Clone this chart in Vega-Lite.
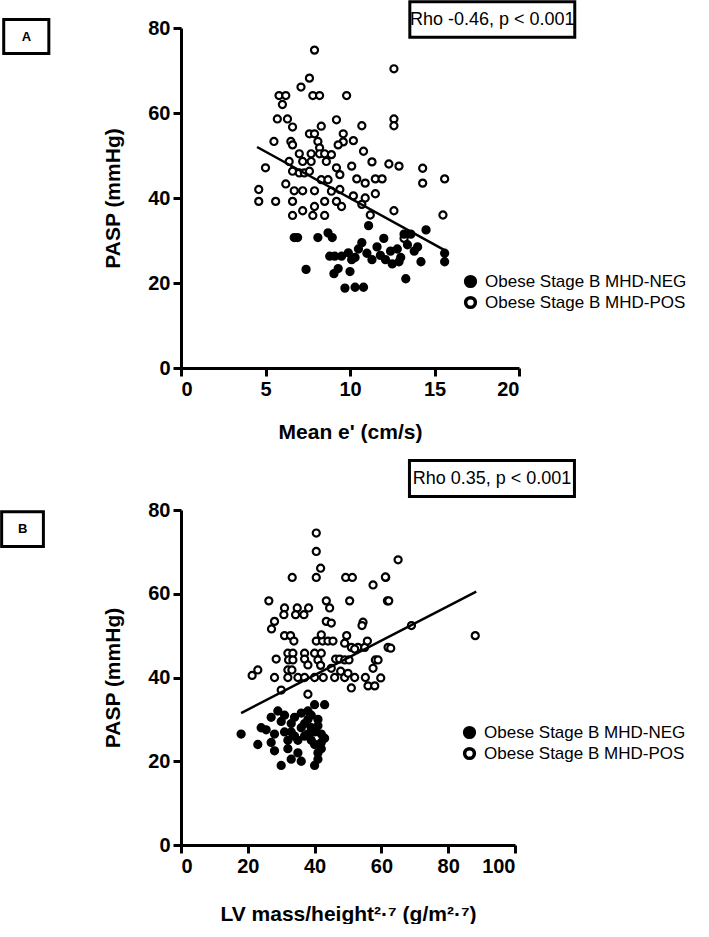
{
  "$schema": "https://vega.github.io/schema/vega-lite/v6.json",
  "background": "white",
  "padding": {"left": 0, "top": 0, "right": 0, "bottom": 0},
  "config": {
    "view": {"stroke": null},
    "font": "Liberation Sans",
    "axis": {"grid": false, "domainColor": "black", "domainWidth": 3, "tickColor": "black", "tickWidth": 3, "tickSize": 8, "labelFont": "Liberation Sans", "labelFontWeight": "bold", "labelFontSize": 20, "labelColor": "black", "labelPadding": 3, "titleFont": "Liberation Sans", "titleFontWeight": "bold", "titleFontSize": 21, "titleColor": "black"},
    "legend": {"labelLimit": 400}
  },
  "datasets": {
    "a": [
      {"e": 7.9, "pasp": 74.8, "group": "Obese Stage B MHD-POS"},
      {"e": 7.6, "pasp": 68.2, "group": "Obese Stage B MHD-POS"},
      {"e": 7.1, "pasp": 66.1, "group": "Obese Stage B MHD-POS"},
      {"e": 5.8, "pasp": 64.1, "group": "Obese Stage B MHD-POS"},
      {"e": 6.2, "pasp": 64.1, "group": "Obese Stage B MHD-POS"},
      {"e": 6.0, "pasp": 62.0, "group": "Obese Stage B MHD-POS"},
      {"e": 7.8, "pasp": 64.1, "group": "Obese Stage B MHD-POS"},
      {"e": 8.2, "pasp": 64.1, "group": "Obese Stage B MHD-POS"},
      {"e": 9.8, "pasp": 64.1, "group": "Obese Stage B MHD-POS"},
      {"e": 5.7, "pasp": 58.6, "group": "Obese Stage B MHD-POS"},
      {"e": 6.3, "pasp": 58.6, "group": "Obese Stage B MHD-POS"},
      {"e": 6.6, "pasp": 56.7, "group": "Obese Stage B MHD-POS"},
      {"e": 9.2, "pasp": 58.4, "group": "Obese Stage B MHD-POS"},
      {"e": 8.3, "pasp": 56.9, "group": "Obese Stage B MHD-POS"},
      {"e": 5.5, "pasp": 53.3, "group": "Obese Stage B MHD-POS"},
      {"e": 6.5, "pasp": 53.3, "group": "Obese Stage B MHD-POS"},
      {"e": 6.6, "pasp": 52.5, "group": "Obese Stage B MHD-POS"},
      {"e": 7.6, "pasp": 55.1, "group": "Obese Stage B MHD-POS"},
      {"e": 7.9, "pasp": 55.1, "group": "Obese Stage B MHD-POS"},
      {"e": 9.6, "pasp": 55.1, "group": "Obese Stage B MHD-POS"},
      {"e": 9.6, "pasp": 53.2, "group": "Obese Stage B MHD-POS"},
      {"e": 8.1, "pasp": 53.3, "group": "Obese Stage B MHD-POS"},
      {"e": 8.2, "pasp": 51.8, "group": "Obese Stage B MHD-POS"},
      {"e": 9.3, "pasp": 52.5, "group": "Obese Stage B MHD-POS"},
      {"e": 5.0, "pasp": 47.1, "group": "Obese Stage B MHD-POS"},
      {"e": 7.0, "pasp": 50.4, "group": "Obese Stage B MHD-POS"},
      {"e": 7.7, "pasp": 50.4, "group": "Obese Stage B MHD-POS"},
      {"e": 8.2, "pasp": 50.4, "group": "Obese Stage B MHD-POS"},
      {"e": 8.5, "pasp": 50.4, "group": "Obese Stage B MHD-POS"},
      {"e": 8.9, "pasp": 50.2, "group": "Obese Stage B MHD-POS"},
      {"e": 6.4, "pasp": 48.6, "group": "Obese Stage B MHD-POS"},
      {"e": 7.2, "pasp": 48.6, "group": "Obese Stage B MHD-POS"},
      {"e": 7.7, "pasp": 48.6, "group": "Obese Stage B MHD-POS"},
      {"e": 8.6, "pasp": 48.6, "group": "Obese Stage B MHD-POS"},
      {"e": 9.2, "pasp": 47.1, "group": "Obese Stage B MHD-POS"},
      {"e": 6.6, "pasp": 46.3, "group": "Obese Stage B MHD-POS"},
      {"e": 7.0, "pasp": 45.9, "group": "Obese Stage B MHD-POS"},
      {"e": 7.3, "pasp": 45.9, "group": "Obese Stage B MHD-POS"},
      {"e": 7.6, "pasp": 46.3, "group": "Obese Stage B MHD-POS"},
      {"e": 8.3, "pasp": 44.3, "group": "Obese Stage B MHD-POS"},
      {"e": 8.7, "pasp": 44.3, "group": "Obese Stage B MHD-POS"},
      {"e": 9.4, "pasp": 45.5, "group": "Obese Stage B MHD-POS"},
      {"e": 4.6, "pasp": 42.0, "group": "Obese Stage B MHD-POS"},
      {"e": 6.2, "pasp": 43.3, "group": "Obese Stage B MHD-POS"},
      {"e": 6.7, "pasp": 41.7, "group": "Obese Stage B MHD-POS"},
      {"e": 7.2, "pasp": 41.7, "group": "Obese Stage B MHD-POS"},
      {"e": 7.9, "pasp": 41.7, "group": "Obese Stage B MHD-POS"},
      {"e": 8.9, "pasp": 41.6, "group": "Obese Stage B MHD-POS"},
      {"e": 9.4, "pasp": 42.0, "group": "Obese Stage B MHD-POS"},
      {"e": 4.6, "pasp": 39.2, "group": "Obese Stage B MHD-POS"},
      {"e": 5.6, "pasp": 39.2, "group": "Obese Stage B MHD-POS"},
      {"e": 6.6, "pasp": 39.2, "group": "Obese Stage B MHD-POS"},
      {"e": 7.2, "pasp": 37.0, "group": "Obese Stage B MHD-POS"},
      {"e": 7.9, "pasp": 38.0, "group": "Obese Stage B MHD-POS"},
      {"e": 8.5, "pasp": 39.2, "group": "Obese Stage B MHD-POS"},
      {"e": 9.2, "pasp": 39.2, "group": "Obese Stage B MHD-POS"},
      {"e": 9.5, "pasp": 38.0, "group": "Obese Stage B MHD-POS"},
      {"e": 6.6, "pasp": 35.9, "group": "Obese Stage B MHD-POS"},
      {"e": 7.8, "pasp": 35.9, "group": "Obese Stage B MHD-POS"},
      {"e": 8.5, "pasp": 35.9, "group": "Obese Stage B MHD-POS"},
      {"e": 12.6, "pasp": 70.4, "group": "Obese Stage B MHD-POS"},
      {"e": 12.6, "pasp": 58.6, "group": "Obese Stage B MHD-POS"},
      {"e": 12.6, "pasp": 57.0, "group": "Obese Stage B MHD-POS"},
      {"e": 10.7, "pasp": 57.0, "group": "Obese Stage B MHD-POS"},
      {"e": 10.2, "pasp": 53.5, "group": "Obese Stage B MHD-POS"},
      {"e": 10.8, "pasp": 51.0, "group": "Obese Stage B MHD-POS"},
      {"e": 11.3, "pasp": 48.5, "group": "Obese Stage B MHD-POS"},
      {"e": 12.3, "pasp": 48.0, "group": "Obese Stage B MHD-POS"},
      {"e": 12.9, "pasp": 47.5, "group": "Obese Stage B MHD-POS"},
      {"e": 14.3, "pasp": 47.0, "group": "Obese Stage B MHD-POS"},
      {"e": 14.3, "pasp": 43.5, "group": "Obese Stage B MHD-POS"},
      {"e": 15.6, "pasp": 44.5, "group": "Obese Stage B MHD-POS"},
      {"e": 10.1, "pasp": 47.5, "group": "Obese Stage B MHD-POS"},
      {"e": 10.4, "pasp": 44.5, "group": "Obese Stage B MHD-POS"},
      {"e": 10.9, "pasp": 43.5, "group": "Obese Stage B MHD-POS"},
      {"e": 11.5, "pasp": 44.5, "group": "Obese Stage B MHD-POS"},
      {"e": 11.9, "pasp": 44.5, "group": "Obese Stage B MHD-POS"},
      {"e": 10.2, "pasp": 40.5, "group": "Obese Stage B MHD-POS"},
      {"e": 10.9, "pasp": 40.0, "group": "Obese Stage B MHD-POS"},
      {"e": 11.5, "pasp": 41.0, "group": "Obese Stage B MHD-POS"},
      {"e": 10.7, "pasp": 38.5, "group": "Obese Stage B MHD-POS"},
      {"e": 12.6, "pasp": 37.0, "group": "Obese Stage B MHD-POS"},
      {"e": 11.2, "pasp": 36.0, "group": "Obese Stage B MHD-POS"},
      {"e": 15.5, "pasp": 36.0, "group": "Obese Stage B MHD-POS"},
      {"e": 13.2, "pasp": 30.5, "group": "Obese Stage B MHD-POS"},
      {"e": 6.7, "pasp": 30.7, "group": "Obese Stage B MHD-NEG"},
      {"e": 6.9, "pasp": 30.7, "group": "Obese Stage B MHD-NEG"},
      {"e": 8.1, "pasp": 30.7, "group": "Obese Stage B MHD-NEG"},
      {"e": 8.7, "pasp": 31.8, "group": "Obese Stage B MHD-NEG"},
      {"e": 8.95, "pasp": 30.7, "group": "Obese Stage B MHD-NEG"},
      {"e": 8.8, "pasp": 26.3, "group": "Obese Stage B MHD-NEG"},
      {"e": 9.1, "pasp": 26.3, "group": "Obese Stage B MHD-NEG"},
      {"e": 9.5, "pasp": 26.3, "group": "Obese Stage B MHD-NEG"},
      {"e": 9.9, "pasp": 27.1, "group": "Obese Stage B MHD-NEG"},
      {"e": 7.4, "pasp": 23.2, "group": "Obese Stage B MHD-NEG"},
      {"e": 9.05, "pasp": 22.2, "group": "Obese Stage B MHD-NEG"},
      {"e": 9.3, "pasp": 23.4, "group": "Obese Stage B MHD-NEG"},
      {"e": 9.7, "pasp": 18.8, "group": "Obese Stage B MHD-NEG"},
      {"e": 10.0, "pasp": 22.7, "group": "Obese Stage B MHD-NEG"},
      {"e": 10.3, "pasp": 26.0, "group": "Obese Stage B MHD-NEG"},
      {"e": 10.5, "pasp": 28.0, "group": "Obese Stage B MHD-NEG"},
      {"e": 10.7, "pasp": 29.5, "group": "Obese Stage B MHD-NEG"},
      {"e": 10.3, "pasp": 19.0, "group": "Obese Stage B MHD-NEG"},
      {"e": 10.8, "pasp": 19.0, "group": "Obese Stage B MHD-NEG"},
      {"e": 11.1, "pasp": 33.5, "group": "Obese Stage B MHD-NEG"},
      {"e": 11.3, "pasp": 25.5, "group": "Obese Stage B MHD-NEG"},
      {"e": 11.6, "pasp": 28.5, "group": "Obese Stage B MHD-NEG"},
      {"e": 11.8, "pasp": 26.5, "group": "Obese Stage B MHD-NEG"},
      {"e": 12.1, "pasp": 25.5, "group": "Obese Stage B MHD-NEG"},
      {"e": 12.4, "pasp": 27.5, "group": "Obese Stage B MHD-NEG"},
      {"e": 12.5, "pasp": 24.5, "group": "Obese Stage B MHD-NEG"},
      {"e": 12.8, "pasp": 28.0, "group": "Obese Stage B MHD-NEG"},
      {"e": 13.0, "pasp": 26.0, "group": "Obese Stage B MHD-NEG"},
      {"e": 13.2, "pasp": 31.5, "group": "Obese Stage B MHD-NEG"},
      {"e": 13.4, "pasp": 29.0, "group": "Obese Stage B MHD-NEG"},
      {"e": 13.6, "pasp": 31.5, "group": "Obese Stage B MHD-NEG"},
      {"e": 13.8, "pasp": 27.5, "group": "Obese Stage B MHD-NEG"},
      {"e": 14.0, "pasp": 28.5, "group": "Obese Stage B MHD-NEG"},
      {"e": 14.2, "pasp": 25.0, "group": "Obese Stage B MHD-NEG"},
      {"e": 14.5, "pasp": 32.5, "group": "Obese Stage B MHD-NEG"},
      {"e": 13.3, "pasp": 21.0, "group": "Obese Stage B MHD-NEG"},
      {"e": 12.9, "pasp": 25.0, "group": "Obese Stage B MHD-NEG"},
      {"e": 15.6, "pasp": 27.0, "group": "Obese Stage B MHD-NEG"},
      {"e": 15.6, "pasp": 25.0, "group": "Obese Stage B MHD-NEG"},
      {"e": 10.1, "pasp": 25.5, "group": "Obese Stage B MHD-NEG"},
      {"e": 11.0, "pasp": 27.0, "group": "Obese Stage B MHD-NEG"},
      {"e": 12.0, "pasp": 30.5, "group": "Obese Stage B MHD-NEG"}
    ],
    "aline": [
      {"e": 4.5, "pasp": 52.0},
      {"e": 15.7, "pasp": 27.5}
    ],
    "b": [
      {"lvm": 40.5, "pasp": 74.5, "group": "Obese Stage B MHD-POS"},
      {"lvm": 40.5, "pasp": 70.1, "group": "Obese Stage B MHD-POS"},
      {"lvm": 41.8, "pasp": 66.1, "group": "Obese Stage B MHD-POS"},
      {"lvm": 40.5, "pasp": 63.9, "group": "Obese Stage B MHD-POS"},
      {"lvm": 33.3, "pasp": 63.9, "group": "Obese Stage B MHD-POS"},
      {"lvm": 49.3, "pasp": 63.9, "group": "Obese Stage B MHD-POS"},
      {"lvm": 51.3, "pasp": 63.9, "group": "Obese Stage B MHD-POS"},
      {"lvm": 61.3, "pasp": 63.9, "group": "Obese Stage B MHD-POS"},
      {"lvm": 57.5, "pasp": 62.1, "group": "Obese Stage B MHD-POS"},
      {"lvm": 26.3, "pasp": 58.3, "group": "Obese Stage B MHD-POS"},
      {"lvm": 50.5, "pasp": 58.3, "group": "Obese Stage B MHD-POS"},
      {"lvm": 61.8, "pasp": 58.3, "group": "Obese Stage B MHD-POS"},
      {"lvm": 43.5, "pasp": 58.3, "group": "Obese Stage B MHD-POS"},
      {"lvm": 44.5, "pasp": 56.6, "group": "Obese Stage B MHD-POS"},
      {"lvm": 31.0, "pasp": 56.6, "group": "Obese Stage B MHD-POS"},
      {"lvm": 34.8, "pasp": 56.6, "group": "Obese Stage B MHD-POS"},
      {"lvm": 38.2, "pasp": 56.6, "group": "Obese Stage B MHD-POS"},
      {"lvm": 30.8, "pasp": 55.0, "group": "Obese Stage B MHD-POS"},
      {"lvm": 34.3, "pasp": 55.0, "group": "Obese Stage B MHD-POS"},
      {"lvm": 36.8, "pasp": 55.0, "group": "Obese Stage B MHD-POS"},
      {"lvm": 28.0, "pasp": 53.4, "group": "Obese Stage B MHD-POS"},
      {"lvm": 27.1, "pasp": 51.6, "group": "Obese Stage B MHD-POS"},
      {"lvm": 43.5, "pasp": 53.4, "group": "Obese Stage B MHD-POS"},
      {"lvm": 45.0, "pasp": 53.0, "group": "Obese Stage B MHD-POS"},
      {"lvm": 54.5, "pasp": 53.2, "group": "Obese Stage B MHD-POS"},
      {"lvm": 54.2, "pasp": 52.4, "group": "Obese Stage B MHD-POS"},
      {"lvm": 31.0, "pasp": 50.0, "group": "Obese Stage B MHD-POS"},
      {"lvm": 32.8, "pasp": 50.0, "group": "Obese Stage B MHD-POS"},
      {"lvm": 33.8, "pasp": 48.7, "group": "Obese Stage B MHD-POS"},
      {"lvm": 40.5, "pasp": 48.7, "group": "Obese Stage B MHD-POS"},
      {"lvm": 42.4, "pasp": 48.7, "group": "Obese Stage B MHD-POS"},
      {"lvm": 44.0, "pasp": 48.7, "group": "Obese Stage B MHD-POS"},
      {"lvm": 45.5, "pasp": 48.7, "group": "Obese Stage B MHD-POS"},
      {"lvm": 42.0, "pasp": 50.2, "group": "Obese Stage B MHD-POS"},
      {"lvm": 49.6, "pasp": 50.0, "group": "Obese Stage B MHD-POS"},
      {"lvm": 49.0, "pasp": 48.2, "group": "Obese Stage B MHD-POS"},
      {"lvm": 51.0, "pasp": 47.2, "group": "Obese Stage B MHD-POS"},
      {"lvm": 53.0, "pasp": 47.2, "group": "Obese Stage B MHD-POS"},
      {"lvm": 55.0, "pasp": 47.2, "group": "Obese Stage B MHD-POS"},
      {"lvm": 55.8, "pasp": 48.7, "group": "Obese Stage B MHD-POS"},
      {"lvm": 62.0, "pasp": 47.2, "group": "Obese Stage B MHD-POS"},
      {"lvm": 32.0, "pasp": 45.8, "group": "Obese Stage B MHD-POS"},
      {"lvm": 33.5, "pasp": 45.8, "group": "Obese Stage B MHD-POS"},
      {"lvm": 37.0, "pasp": 45.8, "group": "Obese Stage B MHD-POS"},
      {"lvm": 40.0, "pasp": 45.8, "group": "Obese Stage B MHD-POS"},
      {"lvm": 42.0, "pasp": 45.8, "group": "Obese Stage B MHD-POS"},
      {"lvm": 28.5, "pasp": 44.4, "group": "Obese Stage B MHD-POS"},
      {"lvm": 32.2, "pasp": 44.2, "group": "Obese Stage B MHD-POS"},
      {"lvm": 33.5, "pasp": 44.2, "group": "Obese Stage B MHD-POS"},
      {"lvm": 37.0, "pasp": 44.4, "group": "Obese Stage B MHD-POS"},
      {"lvm": 38.0, "pasp": 43.0, "group": "Obese Stage B MHD-POS"},
      {"lvm": 41.0, "pasp": 44.2, "group": "Obese Stage B MHD-POS"},
      {"lvm": 41.8, "pasp": 42.9, "group": "Obese Stage B MHD-POS"},
      {"lvm": 46.3, "pasp": 44.4, "group": "Obese Stage B MHD-POS"},
      {"lvm": 47.5, "pasp": 44.4, "group": "Obese Stage B MHD-POS"},
      {"lvm": 49.0, "pasp": 44.2, "group": "Obese Stage B MHD-POS"},
      {"lvm": 50.3, "pasp": 44.2, "group": "Obese Stage B MHD-POS"},
      {"lvm": 52.0, "pasp": 46.8, "group": "Obese Stage B MHD-POS"},
      {"lvm": 58.2, "pasp": 44.2, "group": "Obese Stage B MHD-POS"},
      {"lvm": 23.0, "pasp": 41.8, "group": "Obese Stage B MHD-POS"},
      {"lvm": 21.3, "pasp": 40.5, "group": "Obese Stage B MHD-POS"},
      {"lvm": 32.0, "pasp": 41.8, "group": "Obese Stage B MHD-POS"},
      {"lvm": 33.2, "pasp": 41.8, "group": "Obese Stage B MHD-POS"},
      {"lvm": 28.0, "pasp": 40.0, "group": "Obese Stage B MHD-POS"},
      {"lvm": 32.0, "pasp": 40.0, "group": "Obese Stage B MHD-POS"},
      {"lvm": 35.0, "pasp": 40.0, "group": "Obese Stage B MHD-POS"},
      {"lvm": 37.0, "pasp": 40.0, "group": "Obese Stage B MHD-POS"},
      {"lvm": 40.0, "pasp": 40.0, "group": "Obese Stage B MHD-POS"},
      {"lvm": 42.6, "pasp": 40.0, "group": "Obese Stage B MHD-POS"},
      {"lvm": 46.0, "pasp": 40.0, "group": "Obese Stage B MHD-POS"},
      {"lvm": 49.0, "pasp": 40.0, "group": "Obese Stage B MHD-POS"},
      {"lvm": 52.0, "pasp": 40.0, "group": "Obese Stage B MHD-POS"},
      {"lvm": 55.2, "pasp": 40.0, "group": "Obese Stage B MHD-POS"},
      {"lvm": 45.0, "pasp": 42.2, "group": "Obese Stage B MHD-POS"},
      {"lvm": 47.8, "pasp": 41.5, "group": "Obese Stage B MHD-POS"},
      {"lvm": 50.0, "pasp": 41.0, "group": "Obese Stage B MHD-POS"},
      {"lvm": 57.5, "pasp": 42.2, "group": "Obese Stage B MHD-POS"},
      {"lvm": 65.0, "pasp": 68.1, "group": "Obese Stage B MHD-POS"},
      {"lvm": 61.2, "pasp": 64.0, "group": "Obese Stage B MHD-POS"},
      {"lvm": 62.2, "pasp": 58.3, "group": "Obese Stage B MHD-POS"},
      {"lvm": 69.0, "pasp": 52.4, "group": "Obese Stage B MHD-POS"},
      {"lvm": 62.8, "pasp": 47.0, "group": "Obese Stage B MHD-POS"},
      {"lvm": 88.1, "pasp": 50.0, "group": "Obese Stage B MHD-POS"},
      {"lvm": 59.0, "pasp": 44.2, "group": "Obese Stage B MHD-POS"},
      {"lvm": 59.8, "pasp": 39.9, "group": "Obese Stage B MHD-POS"},
      {"lvm": 56.0, "pasp": 38.0, "group": "Obese Stage B MHD-POS"},
      {"lvm": 58.0, "pasp": 38.0, "group": "Obese Stage B MHD-POS"},
      {"lvm": 51.0, "pasp": 37.5, "group": "Obese Stage B MHD-POS"},
      {"lvm": 30.0, "pasp": 37.0, "group": "Obese Stage B MHD-POS"},
      {"lvm": 38.0, "pasp": 36.0, "group": "Obese Stage B MHD-POS"},
      {"lvm": 18.0, "pasp": 26.5, "group": "Obese Stage B MHD-NEG"},
      {"lvm": 23.0, "pasp": 24.0, "group": "Obese Stage B MHD-NEG"},
      {"lvm": 24.0, "pasp": 28.0, "group": "Obese Stage B MHD-NEG"},
      {"lvm": 25.5, "pasp": 27.5, "group": "Obese Stage B MHD-NEG"},
      {"lvm": 27.0, "pasp": 30.5, "group": "Obese Stage B MHD-NEG"},
      {"lvm": 28.0, "pasp": 26.5, "group": "Obese Stage B MHD-NEG"},
      {"lvm": 28.0, "pasp": 22.5, "group": "Obese Stage B MHD-NEG"},
      {"lvm": 29.0, "pasp": 32.0, "group": "Obese Stage B MHD-NEG"},
      {"lvm": 30.0, "pasp": 29.5, "group": "Obese Stage B MHD-NEG"},
      {"lvm": 30.0, "pasp": 19.0, "group": "Obese Stage B MHD-NEG"},
      {"lvm": 31.0, "pasp": 31.0, "group": "Obese Stage B MHD-NEG"},
      {"lvm": 31.0, "pasp": 27.0, "group": "Obese Stage B MHD-NEG"},
      {"lvm": 32.0, "pasp": 25.0, "group": "Obese Stage B MHD-NEG"},
      {"lvm": 32.0, "pasp": 23.0, "group": "Obese Stage B MHD-NEG"},
      {"lvm": 33.0, "pasp": 29.0, "group": "Obese Stage B MHD-NEG"},
      {"lvm": 33.0, "pasp": 27.0, "group": "Obese Stage B MHD-NEG"},
      {"lvm": 34.0, "pasp": 30.5, "group": "Obese Stage B MHD-NEG"},
      {"lvm": 34.0, "pasp": 26.0, "group": "Obese Stage B MHD-NEG"},
      {"lvm": 35.0, "pasp": 25.0, "group": "Obese Stage B MHD-NEG"},
      {"lvm": 35.0, "pasp": 22.0, "group": "Obese Stage B MHD-NEG"},
      {"lvm": 36.0, "pasp": 31.5, "group": "Obese Stage B MHD-NEG"},
      {"lvm": 36.0, "pasp": 28.0, "group": "Obese Stage B MHD-NEG"},
      {"lvm": 37.0, "pasp": 26.0, "group": "Obese Stage B MHD-NEG"},
      {"lvm": 37.0, "pasp": 29.0, "group": "Obese Stage B MHD-NEG"},
      {"lvm": 38.0, "pasp": 30.0, "group": "Obese Stage B MHD-NEG"},
      {"lvm": 38.0, "pasp": 32.0, "group": "Obese Stage B MHD-NEG"},
      {"lvm": 38.0, "pasp": 26.5, "group": "Obese Stage B MHD-NEG"},
      {"lvm": 39.0, "pasp": 28.0, "group": "Obese Stage B MHD-NEG"},
      {"lvm": 39.0, "pasp": 25.0, "group": "Obese Stage B MHD-NEG"},
      {"lvm": 39.0, "pasp": 31.0, "group": "Obese Stage B MHD-NEG"},
      {"lvm": 40.0, "pasp": 33.5, "group": "Obese Stage B MHD-NEG"},
      {"lvm": 40.0, "pasp": 27.0, "group": "Obese Stage B MHD-NEG"},
      {"lvm": 40.0, "pasp": 24.0, "group": "Obese Stage B MHD-NEG"},
      {"lvm": 40.0, "pasp": 19.0, "group": "Obese Stage B MHD-NEG"},
      {"lvm": 41.0, "pasp": 22.0, "group": "Obese Stage B MHD-NEG"},
      {"lvm": 41.0, "pasp": 28.5, "group": "Obese Stage B MHD-NEG"},
      {"lvm": 41.0, "pasp": 30.0, "group": "Obese Stage B MHD-NEG"},
      {"lvm": 42.0, "pasp": 26.5, "group": "Obese Stage B MHD-NEG"},
      {"lvm": 42.0, "pasp": 24.5, "group": "Obese Stage B MHD-NEG"},
      {"lvm": 42.0, "pasp": 23.0, "group": "Obese Stage B MHD-NEG"},
      {"lvm": 43.0, "pasp": 33.5, "group": "Obese Stage B MHD-NEG"},
      {"lvm": 43.0, "pasp": 25.5, "group": "Obese Stage B MHD-NEG"},
      {"lvm": 41.0, "pasp": 20.5, "group": "Obese Stage B MHD-NEG"},
      {"lvm": 36.0, "pasp": 20.0, "group": "Obese Stage B MHD-NEG"},
      {"lvm": 33.0, "pasp": 20.5, "group": "Obese Stage B MHD-NEG"},
      {"lvm": 27.0, "pasp": 24.5, "group": "Obese Stage B MHD-NEG"}
    ],
    "bline": [
      {"lvm": 18.0, "pasp": 31.5},
      {"lvm": 88.4, "pasp": 60.5}
    ]
  },
  "vconcat": [
    {
      "width": 338,
      "height": 340,
      "layer": [
        {
          "data": {"name": "a"},
          "mark": {"type": "point", "shape": "circle", "size": 50, "strokeWidth": 2.2, "stroke": "black", "opacity": 1},
          "encoding": {
            "x": {"field": "e", "type": "quantitative", "scale": {"domain": [0, 20]}, "axis": {"values": [0, 5, 10, 15, 20], "title": "Mean e' (cm/s)", "titlePadding": 22}},
            "y": {"field": "pasp", "type": "quantitative", "scale": {"domain": [0, 80]}, "axis": {"values": [0, 20, 40, 60, 80], "title": "PASP (mmHg)", "titlePadding": 24}},
            "fill": {"field": "group", "type": "nominal", "scale": {"domain": ["Obese Stage B MHD-NEG", "Obese Stage B MHD-POS"], "range": ["black", "white"]},
              "legend": {"orient": "none", "legendX": 281, "legendY": 245, "title": null, "padding": 0, "labelFont": "Liberation Sans", "labelFontSize": 17, "labelColor": "black", "labelLimit": 400, "symbolType": "circle", "symbolSize": 95, "symbolStrokeWidth": 3.5, "symbolStrokeColor": "black", "symbolOpacity": 1, "labelOffset": 6, "rowPadding": -8}}
          }
        },
        {
          "data": {"name": "aline"},
          "mark": {"type": "line", "color": "black", "strokeWidth": 2.5},
          "encoding": {
            "x": {"field": "e", "type": "quantitative"},
            "y": {"field": "pasp", "type": "quantitative"}
          }
        },
        {
          "data": {"values": [{}]},
          "mark": {"type": "rect", "fill": "white", "stroke": "black", "strokeWidth": 3},
          "encoding": {
            "x": {"datum": 13.54, "type": "quantitative"}, "x2": {"datum": 23.3},
            "y": {"datum": 86.2, "type": "quantitative"}, "y2": {"datum": 77.8}
          }
        },
        {
          "data": {"values": [{}]},
          "mark": {"type": "text", "text": "Rho -0.46, p < 0.001", "font": "Liberation Sans", "fontSize": 18, "color": "black", "align": "center", "baseline": "middle"},
          "encoding": {
            "x": {"datum": 18.42, "type": "quantitative"},
            "y": {"datum": 82.0, "type": "quantitative"}
          }
        },
        {
          "data": {"values": [{}]},
          "mark": {"type": "rect", "fill": "white", "stroke": "black", "strokeWidth": 3},
          "encoding": {
            "x": {"datum": -10.49, "type": "quantitative"}, "x2": {"datum": -7.82},
            "y": {"datum": 82.0, "type": "quantitative"}, "y2": {"datum": 74.0}
          }
        },
        {
          "data": {"values": [{}]},
          "mark": {"type": "text", "text": "A", "font": "Liberation Sans", "fontWeight": "bold", "fontSize": 13, "color": "black", "align": "center", "baseline": "middle"},
          "encoding": {
            "x": {"datum": -9.15, "type": "quantitative"},
            "y": {"datum": 78.0, "type": "quantitative"}
          }
        }
      ]
    },
    {
      "width": 334,
      "height": 335,
      "layer": [
        {
          "data": {"name": "b"},
          "mark": {"type": "point", "shape": "circle", "size": 50, "strokeWidth": 2.2, "stroke": "black", "opacity": 1},
          "encoding": {
            "x": {"field": "lvm", "type": "quantitative", "scale": {"domain": [0, 100]}, "axis": {"values": [0, 20, 40, 60, 80, 100], "title": "LV mass/height²·⁷ (g/m²·⁷)", "titlePadding": 27}},
            "y": {"field": "pasp", "type": "quantitative", "scale": {"domain": [0, 80]}, "axis": {"values": [0, 20, 40, 60, 80], "title": "PASP (mmHg)", "titlePadding": 24}},
            "fill": {"field": "group", "type": "nominal", "scale": {"domain": ["Obese Stage B MHD-NEG", "Obese Stage B MHD-POS"], "range": ["black", "white"]},
              "legend": {"orient": "none", "legendX": 280, "legendY": 214, "title": null, "padding": 0, "labelFont": "Liberation Sans", "labelFontSize": 17, "labelColor": "black", "labelLimit": 400, "symbolType": "circle", "symbolSize": 95, "symbolStrokeWidth": 3.5, "symbolStrokeColor": "black", "symbolOpacity": 1, "labelOffset": 6, "rowPadding": -7}}
          }
        },
        {
          "data": {"name": "bline"},
          "mark": {"type": "line", "color": "black", "strokeWidth": 2.5},
          "encoding": {
            "x": {"field": "lvm", "type": "quantitative"},
            "y": {"field": "pasp", "type": "quantitative"}
          }
        },
        {
          "data": {"values": [{}]},
          "mark": {"type": "rect", "fill": "white", "stroke": "black", "strokeWidth": 3},
          "encoding": {
            "x": {"datum": 68.4, "type": "quantitative"}, "x2": {"datum": 117.8},
            "y": {"datum": 91.8, "type": "quantitative"}, "y2": {"datum": 83.2}
          }
        },
        {
          "data": {"values": [{}]},
          "mark": {"type": "text", "text": "Rho 0.35, p < 0.001", "font": "Liberation Sans", "fontSize": 18, "color": "black", "align": "center", "baseline": "middle"},
          "encoding": {
            "x": {"datum": 93.1, "type": "quantitative"},
            "y": {"datum": 87.5, "type": "quantitative"}
          }
        },
        {
          "data": {"values": [{}]},
          "mark": {"type": "rect", "fill": "white", "stroke": "black", "strokeWidth": 3},
          "encoding": {
            "x": {"datum": -53.7, "type": "quantitative"}, "x2": {"datum": -41.2},
            "y": {"datum": 79.6, "type": "quantitative"}, "y2": {"datum": 71.3}
          }
        },
        {
          "data": {"values": [{}]},
          "mark": {"type": "text", "text": "B", "font": "Liberation Sans", "fontWeight": "bold", "fontSize": 13, "color": "black", "align": "center", "baseline": "middle"},
          "encoding": {
            "x": {"datum": -47.4, "type": "quantitative"},
            "y": {"datum": 75.5, "type": "quantitative"}
          }
        }
      ]
    }
  ],
  "spacing": 142,
  "bounds": "flush",
  "resolve": {"scale": {"fill": "independent"}, "legend": {"fill": "independent"}}
}
